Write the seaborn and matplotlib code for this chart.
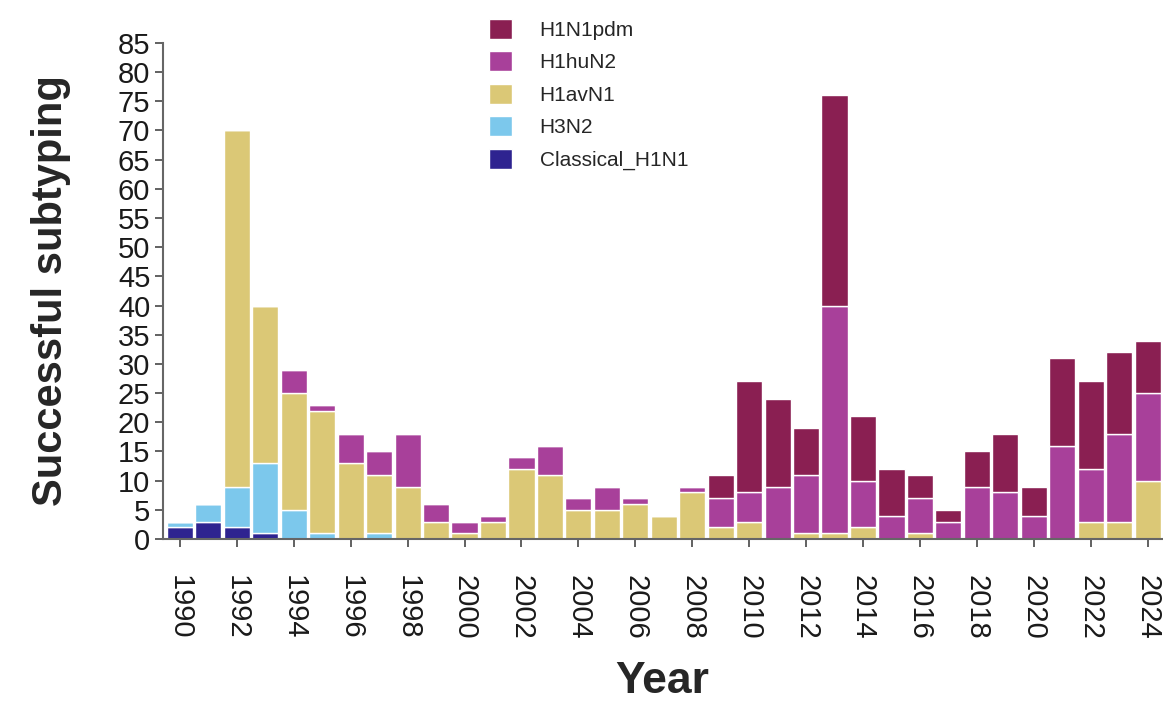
import pandas as pd
import seaborn as sns
import matplotlib.pyplot as plt

years = list(range(1990, 2025))

# counts per subtype, one value per year 1990..2024
classical_h1n1 = [2, 3, 2, 1, 0, 0, 0, 0, 0, 0,
                  0, 0, 0, 0, 0, 0, 0, 0, 0, 0,
                  0, 0, 0, 0, 0, 0, 0, 0, 0, 0,
                  0, 0, 0, 0, 0]
h3n2 = [1, 3, 7, 12, 5, 1, 0, 1, 0, 0,
        0, 0, 0, 0, 0, 0, 0, 0, 0, 0,
        0, 0, 0, 0, 0, 0, 0, 0, 0, 0,
        0, 0, 0, 0, 0]
h1avn1 = [0, 0, 61, 27, 20, 21, 13, 10, 9, 3,
          1, 3, 12, 11, 5, 5, 6, 4, 8, 2,
          3, 0, 1, 1, 2, 0, 1, 0, 0, 0,
          0, 0, 3, 3, 10]
h1hun2 = [0, 0, 0, 0, 4, 1, 5, 4, 9, 3,
          2, 1, 2, 5, 2, 4, 1, 0, 1, 5,
          5, 9, 10, 39, 8, 4, 6, 3, 9, 8,
          4, 16, 9, 15, 15]
h1n1pdm = [0, 0, 0, 0, 0, 0, 0, 0, 0, 0,
           0, 0, 0, 0, 0, 0, 0, 0, 0, 4,
           19, 15, 8, 36, 11, 8, 4, 2, 6, 10,
           5, 15, 15, 14, 9]

subtypes = ['H1N1pdm', 'H1huN2', 'H1avN1', 'H3N2', 'Classical_H1N1']
colors = ['#8a1f52', '#a8409a', '#dbc876', '#7cc8ec', '#2e2390']

frames = []
for name, vals in zip(subtypes, [h1n1pdm, h1hun2, h1avn1, h3n2, classical_h1n1]):
    frames.append(pd.DataFrame({'Year': years, 'count': vals, 'subtype': name}))
df = pd.concat(frames, ignore_index=True)

sns.set_theme(style='white')
plt.rcParams['font.family'] = ['Liberation Sans', 'DejaVu Sans']

fig = plt.figure(figsize=(11.63, 7.01), dpi=100)
ax = fig.add_axes([0.140, 0.231, 0.859, 0.708])

sns.histplot(data=df, x='Year', weights='count', hue='subtype',
             hue_order=subtypes, palette=colors, multiple='stack',
             discrete=True, shrink=0.92, alpha=1, edgecolor='white',
             linewidth=1, ax=ax)

ax.set_xlim(1989.4, 2024.5)
ax.set_ylim(0, 85)
ax.set_yticks(range(0, 86, 5))
ax.set_xticks(range(1990, 2025, 2))
ax.set_xticklabels([str(y) for y in range(1990, 2025, 2)], rotation=-90)
ax.tick_params(axis='both', which='major', labelsize=21, length=6,
               width=1.3, color='#555555', labelcolor='#1a1a1a', pad=3,
               left=True, bottom=True)
ax.tick_params(axis='x', pad=20)

for side in ['top', 'right']:
    ax.spines[side].set_visible(False)
for side in ['left', 'bottom']:
    ax.spines[side].set_color('#666666')
    ax.spines[side].set_linewidth(1.5)

ax.set_ylabel('Successful subtyping', fontsize=30, fontweight='bold', labelpad=34)
ax.set_xlabel('Year', fontsize=32, fontweight='bold', labelpad=15)

sns.move_legend(ax, 'upper left', bbox_to_anchor=(0.404, 1.0),
                bbox_transform=fig.transFigure, title=None, frameon=False,
                fontsize=15, handlelength=1.1, handleheight=1.1,
                labelspacing=0.55, handletextpad=1.35)

plt.savefig('out.png', dpi=100)
plt.close()
